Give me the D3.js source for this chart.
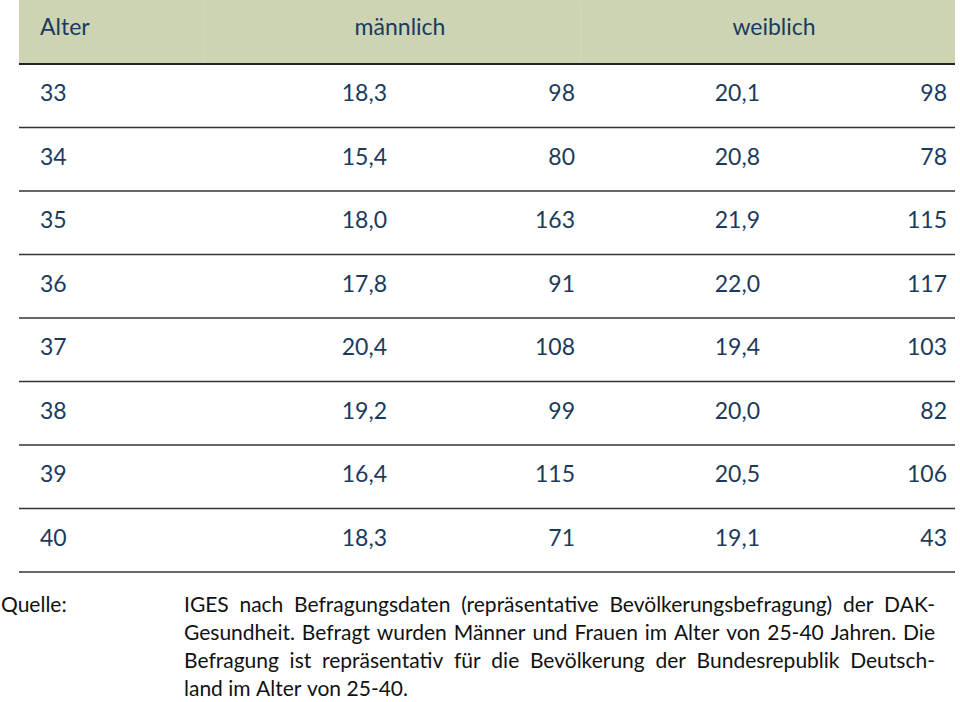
<!DOCTYPE html>
<html><head><meta charset="utf-8">
<script src="https://cdn.jsdelivr.net/npm/d3@7"></script>
<style>html,body{margin:0;padding:0;background:#fff;}svg{display:block;}</style>
</head><body>
<script>
const headers = ["Alter", "männlich", "weiblich"];
const ages = ["33","34","35","36","37","38","39","40"];
const maleRate = ["18,3","15,4","18,0","17,8","20,4","19,2","16,4","18,3"];
const maleCount = ["98","80","163","91","108","99","115","71"];
const femaleRate = ["20,1","20,8","21,9","22,0","19,4","20,0","20,5","19,1"];
const femaleCount = ["98","78","115","117","103","82","106","43"];
const sourceLabel = "Quelle:";
const sourceLines = [
  "IGES nach Befragungsdaten (repräsentative Bevölkerungsbefragung) der DAK-",
  "Gesundheit. Befragt wurden Männer und Frauen im Alter von 25-40 Jahren. Die",
  "Befragung ist repräsentativ für die Bevölkerung der Bundesrepublik Deutsch-",
  "land im Alter von 25-40."
];

const W = 960, H = 702;
const navy = "#1b3a5c";
const font = "Lato, 'Open Sans', sans-serif";
const svg = d3.select("body").append("svg").attr("width", W).attr("height", H);

const left = 19, right = 955;
const headTop = 0, headBottom = 64, tableBottom = 572;

// header band
svg.append("rect").attr("x", left).attr("y", headTop).attr("width", right-left).attr("height", headBottom-headTop).attr("fill", "#ccd4b3");
[204, 581].forEach(x => svg.append("line").attr("x1", x).attr("x2", x).attr("y1", 2).attr("y2", headBottom-2).attr("stroke", "#d3d9bf").attr("stroke-width", 1));

const y = d3.scaleBand().domain(ages).range([headBottom, tableBottom]);

// header texts
const headerPos = [{x: 40, a: "start"}, {x: 400, a: "middle"}, {x: 774, a: "middle"}];
svg.selectAll("text.h").data(headers).join("text").attr("class","h")
  .attr("x", (d,i) => headerPos[i].x).attr("y", 27).attr("dy","0.35em")
  .attr("text-anchor", (d,i) => headerPos[i].a)
  .attr("font-family", font).attr("font-size", 23).attr("fill", navy).text(d => d);

// row lines
svg.append("line").attr("x1", left).attr("x2", right).attr("y1", headBottom).attr("y2", headBottom).attr("stroke", "#222").attr("stroke-width", 2);
svg.selectAll("line.r").data(ages).join("line").attr("class","r")
  .attr("x1", left).attr("x2", right)
  .attr("y1", d => y(d) + y.bandwidth()).attr("y2", d => y(d) + y.bandwidth())
  .attr("stroke", "#333").attr("stroke-width", 1.6);

const cols = [
  {data: ages, x: 40, a: "start"},
  {data: maleRate, x: 387, a: "end"},
  {data: maleCount, x: 575, a: "end"},
  {data: femaleRate, x: 760, a: "end"},
  {data: femaleCount, x: 947, a: "end"}
];
cols.forEach((c, ci) => {
  svg.selectAll("text.c" + ci).data(c.data).join("text").attr("class", "c" + ci)
    .attr("x", c.x).attr("y", (d,i) => y(ages[i]) + y.bandwidth()/2 - 2.5).attr("dy", "0.35em")
    .attr("text-anchor", c.a).attr("font-family", font).attr("font-size", 23).attr("fill", navy)
    .text(d => d);
});

// source
const fs = 21, lineH = 28, y0 = 605, tx0 = 184, tx1 = 935;
svg.append("text").attr("x", 1).attr("y", y0).attr("dy", "0.35em").attr("font-family", font).attr("font-size", fs).attr("fill", "#111").text(sourceLabel);
sourceLines.forEach((line, li) => {
  const yy = y0 + li * lineH;
  const words = line.split(" ");
  const justify = li < 3;
  const g = svg.append("g");
  const ts = words.map(w => g.append("text").attr("y", yy).attr("dy", "0.35em").attr("font-family", font).attr("font-size", fs).attr("fill", "#111").text(w));
  const widths = ts.map(t => t.node().getComputedTextLength());
  const total = d3.sum(widths);
  const space = justify ? (tx1 - tx0 - total) / (words.length - 1) : fs * 0.26;
  let x = tx0;
  ts.forEach((t, i) => { t.attr("x", x); x += widths[i] + space; });
});
</script>
</body></html>
